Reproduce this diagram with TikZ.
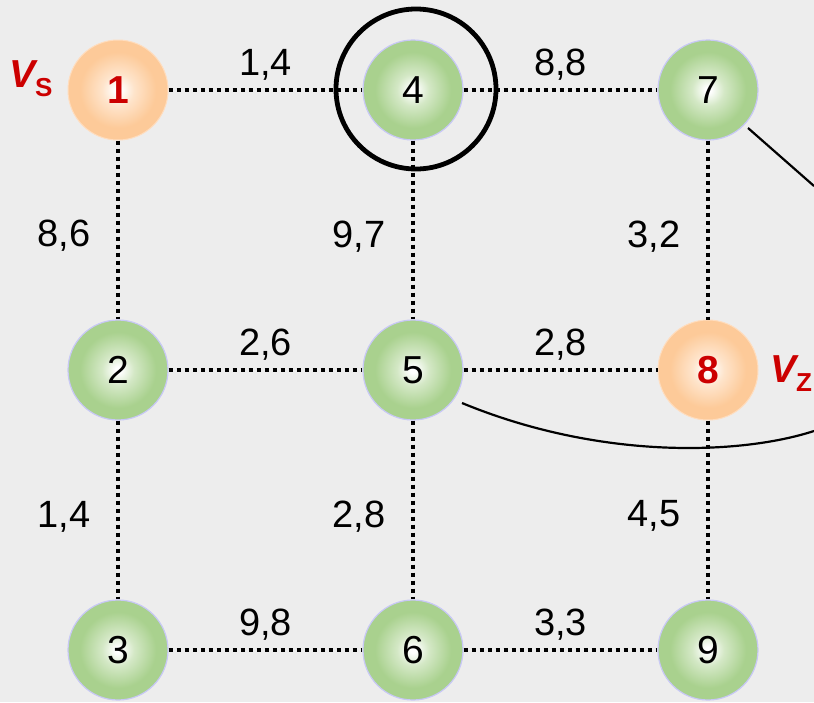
\documentclass[tikz,border=0pt]{standalone}
\usepackage{fontspec}
\setmainfont{Liberation Sans}
\definecolor{bgc}{HTML}{EDEDED}
\definecolor{grc}{HTML}{A9D18E}
\definecolor{orc}{HTML}{FDCA99}
\definecolor{grm}{HTML}{D4E8C6}
\definecolor{orm}{HTML}{FEE4CB}
\definecolor{grb}{HTML}{C8C8F6}
\definecolor{orb}{HTML}{FFDDBE}
\definecolor{redc}{HTML}{CC0000}
\pgfdeclareradialshading{greenball}{\pgfpoint{0bp}{0bp}}{color(0bp)=(white); color(1.5bp)=(white); color(8bp)=(grm); color(19bp)=(grc); color(50bp)=(grc)}
\pgfdeclareradialshading{orangeball}{\pgfpoint{0bp}{0bp}}{color(0bp)=(white); color(1.5bp)=(white); color(8bp)=(orm); color(19bp)=(orc); color(50bp)=(orc)}
\tikzset{
  ball/.style={circle, minimum size=100pt, inner sep=0pt, font=\fontsize{39}{42}\selectfont},
  gball/.style={ball, shading=greenball, draw=grb, line width=1.2pt},
  oball/.style={ball, shading=orangeball, draw=orb, line width=1pt, text=redc, font=\fontsize{39}{42}\selectfont\bfseries},
  dotline/.style={line width=3.5pt, dash pattern=on 4pt off 4pt},
  lbl/.style={inner sep=0pt, font=\fontsize{38}{42}\selectfont},
  hl/.style={lbl, anchor=base, yshift=15pt},
  vl/.style={lbl, anchor=base east, xshift=-26pt, yshift=-17pt},
  vlab/.style={inner sep=0pt, text=redc, anchor=base west},
  curveline/.style={line width=2.2pt}
}
\begin{document}
\begin{tikzpicture}[x=1pt,y=-1pt]
\useasboundingbox (0,0) rectangle (814,702);
\fill[bgc] (0,0) rectangle (814,702);
\node[oball] (n1) at (118,90) {1};
\node[gball] (n4) at (413,90) {4};
\node[gball] (n7) at (708,90) {7};
\node[gball] (n2) at (118,370) {2};
\node[gball] (n5) at (413,370) {5};
\node[oball] (n8) at (708,370) {8};
\node[gball] (n3) at (118,650) {3};
\node[gball] (n6) at (413,650) {6};
\node[gball] (n9) at (708,650) {9};
\draw[dotline] (n1) -- node[hl] {1,4} (n4);
\draw[dotline] (n4) -- node[hl] {8,8} (n7);
\draw[dotline] (n2) -- node[hl] {2,6} (n5);
\draw[dotline] (n5) -- node[hl] {2,8} (n8);
\draw[dotline] (n3) -- node[hl] {9,8} (n6);
\draw[dotline] (n6) -- node[hl] {3,3} (n9);
\draw[dotline] (n1) -- node[vl] {8,6} (n2);
\draw[dotline] (n2) -- node[vl] {1,4} (n3);
\draw[dotline] (n4) -- node[vl] {9,7} (n5);
\draw[dotline] (n5) -- node[vl] {2,8} (n6);
\draw[dotline] (n7) -- node[vl] {3,2} (n8);
\draw[dotline] (n8) -- node[vl] {4,5} (n9);
\node[draw, circle, line width=4.8pt, minimum size=160pt, inner sep=0pt] (ring) at (416,89) {};
\node[vlab] (vs) at (9,87) {\fontsize{39}{44}\selectfont\bfseries\itshape V\fontsize{26}{30}\selectfont\upshape\raisebox{-9pt}{S}};
\node[vlab] (vz) at (770,382) {\fontsize{39}{44}\selectfont\bfseries\itshape V\fontsize{26}{30}\selectfont\upshape\raisebox{-9pt}{Z}};
\coordinate (c7a) at (748,128);
\coordinate (c7b) at (814,186);
\coordinate (c5a) at (462,403);
\coordinate (c5b) at (814,431);
\draw[curveline] (c7a) -- (c7b);
\draw[curveline] (c5a) .. controls (600,460) and (740,455) .. (c5b);
\end{tikzpicture}
\end{document}
